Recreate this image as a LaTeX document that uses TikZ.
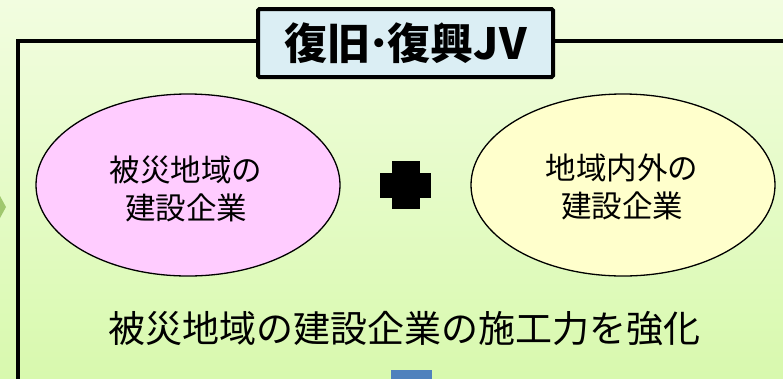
\documentclass[tikz,border=0pt]{standalone}
\usepackage{fontspec}
\setmainfont{Noto Sans CJK JP}
\usetikzlibrary{shapes.geometric}
\definecolor{bgtop}{RGB}{242,253,224}
\definecolor{bgbot}{RGB}{216,249,174}
\definecolor{titlefill}{RGB}{219,238,244}
\definecolor{pinkfill}{RGB}{255,204,255}
\definecolor{yellowfill}{RGB}{255,255,204}
\definecolor{arrowgreen}{RGB}{160,200,110}
\definecolor{bluebar}{RGB}{79,129,189}
\tikzset{
  titlebox/.style={draw=black, line width=4pt, fill=titlefill, rounded corners=1.5pt,
    minimum width=295pt, minimum height=68pt, inner sep=0pt,
    font=\fontsize{43}{46}\selectfont\bfseries},
  firmoval/.style={ellipse, draw=black, line width=1.3pt, minimum width=304pt,
    minimum height=182pt, inner sep=0pt},
  ovaltext/.style={inner sep=0pt, align=center, font=\fontsize{30.5}{38}\selectfont},
  bigtext/.style={inner sep=0pt, font=\fontsize{37}{40}\selectfont}
}
\begin{document}
\begin{tikzpicture}[x=1pt,y=-1pt]
\useasboundingbox (0,0) rectangle (783,378);
\clip (0,0) rectangle (783,378);
\shade[top color=bgtop,bottom color=bgbot] (0,0) rectangle (783,378);
\fill[arrowgreen] (0,196) -- (6,207) -- (0,218) -- cycle;
\draw[line width=4pt] (18,420) -- (18,41) -- (820,41);
\node[titlebox] (title) at (405.5,43) {復旧\hspace{-2pt}･\hspace{-2pt}復興JV};
\node[firmoval, fill=pinkfill] (local) at (188,185) {};
\node[ovaltext] (localtext) at (186,189) {被災地域の\\建設企業};
\node[firmoval, fill=yellowfill] (outer) at (623,185) {};
\node[ovaltext] (outertext) at (622,187) {地域内外の\\建設企業};
\fill[black] (380,173) rectangle (431,198);
\fill[black] (392,161) rectangle (420,209);
\node[bigtext] (goal) at (404,329) {被災地域の建設企業の施工力を強化};
\fill[bluebar] (391,370) rectangle (432,385);
\end{tikzpicture}
\end{document}
